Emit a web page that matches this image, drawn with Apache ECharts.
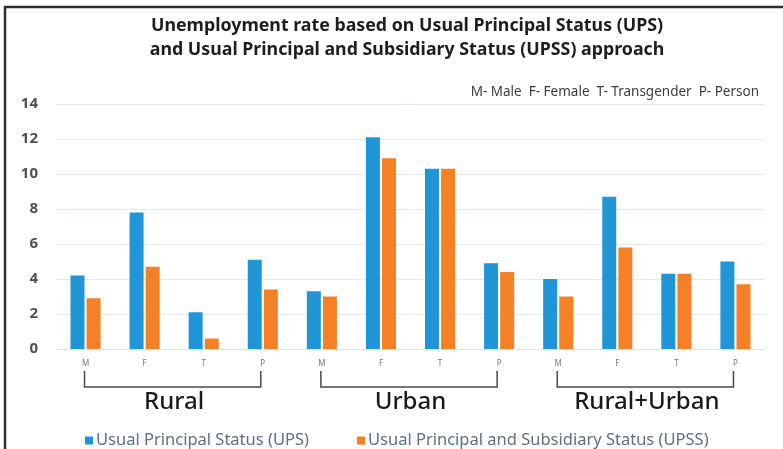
<!DOCTYPE html>
<html>
<head>
<meta charset="utf-8">
<script src="https://cdn.jsdelivr.net/npm/echarts@6/dist/echarts.min.js"></script>
<style>
  html, body { margin: 0; padding: 0; background: #fff; }
  #chart { width: 783px; height: 449px; }
</style>
</head>
<body>
<div id="chart"></div>
<script>
// categories: M/F/T/P repeated for Rural, Urban, Rural+Urban
const categories = ["M", "F", "T", "P", "M", "F", "T", "P", "M", "F", "T", "P"];
const upsValues = [4.2, 7.8, 2.1, 5.1, 3.3, 12.1, 10.3, 4.9, 4.0, 8.7, 4.3, 5.0];
const upssValues = [2.9, 4.7, 0.6, 3.4, 3.0, 10.9, 10.3, 4.4, 3.0, 5.8, 4.3, 3.7];
// groups: [first index, last index, name]
const groups = [
  [0, 3, "Rural"],
  [4, 7, "Urban"],
  [8, 11, "Rural+Urban"],
];
const seriesNames = ["Usual Principal Status (UPS)", "Usual Principal and Subsidiary Status (UPSS)"];

const chart = echarts.init(document.getElementById("chart"));

// bracket + group name under the axis
const renderGroup = (params, api) => {
  const a = api.coord([api.value(0), 0]);
  const b = api.coord([api.value(1), 0]);
  const y1 = a[1] + 22;
  const y2 = a[1] + 38;
  return {
    type: "group",
    children: [
      {
        type: "polyline",
        shape: { points: [[a[0] - 1, y1], [a[0] - 1, y2], [b[0] - 2, y2], [b[0] - 2, y1]] },
        style: { stroke: "#4a4a4a", lineWidth: 1.5, fill: null },
      },
      {
        type: "text",
        style: {
          text: groups[params.dataIndex][2],
          x: (a[0] + b[0]) / 2,
          y: a[1] + 53,
          align: "center",
          verticalAlign: "middle",
          fontSize: 24,
          fontWeight: 500,
          fontFamily: "Noto Sans",
          fill: "#1a1a1a",
        },
      },
    ],
  };
};

chart.setOption({
  animation: false,
  title: [
    {
      text: "Unemployment rate based on Usual Principal Status (UPS)\nand Usual Principal and Subsidiary Status (UPSS) approach",
      left: 402,
      top: 9,
      textAlign: "center",
      textStyle: {
        fontSize: 17.8,
        fontWeight: "bold",
        fontFamily: "Noto Sans",
        color: "#1e1e1e",
        lineHeight: 24,
      },
    },
    {
      text: "M- Male  F- Female  T- Transgender  P- Person",
      right: 19,
      top: 80,
      textStyle: {
        fontSize: 13.5,
        fontWeight: "normal",
        fontFamily: "Noto Sans",
        color: "#3c3c3c",
      },
    },
  ],
  legend: {
    data: seriesNames,
    left: 80,
    top: 427,
    icon: "rect",
    itemWidth: 8,
    itemHeight: 8,
    itemGap: 48,
    textStyle: { fontSize: 16.5, fontFamily: "Noto Sans", color: "#5a7285", padding: [0, 0, 0, -2] },
  },
  grid: { left: 56, right: 18, top: 104, bottom: 100 },
  xAxis: {
    type: "category",
    data: categories,
    axisLine: { lineStyle: { color: "#d9e6ef" } },
    axisTick: { show: false },
    axisLabel: { fontSize: 8, color: "#777", margin: 11, fontFamily: "Noto Sans" },
  },
  yAxis: {
    type: "value",
    min: 0,
    max: 14,
    interval: 2,
    axisLine: { show: false },
    axisTick: { show: false },
    splitLine: { lineStyle: { color: "#dfeaf2" } },
    axisLabel: { fontSize: 15, fontWeight: "bold", color: "#505050", margin: 18, fontFamily: "Noto Sans" },
  },
  graphic: [
    { type: "line", shape: { x1: 4, y1: 7, x2: 783, y2: 7 }, style: { stroke: "#2e2e2e", lineWidth: 2.5 } },
    { type: "line", shape: { x1: 5, y1: 6, x2: 5, y2: 449 }, style: { stroke: "#2e2e2e", lineWidth: 2.5 } },
  ],
  series: [
    {
      name: seriesNames[0],
      type: "bar",
      data: upsValues,
      barWidth: 14,
      barGap: "15%",
      itemStyle: { color: "#2196d6" },
    },
    {
      name: seriesNames[1],
      type: "bar",
      data: upssValues,
      barWidth: 14,
      itemStyle: { color: "#f58025" },
    },
    {
      type: "custom",
      renderItem: renderGroup,
      data: groups.map((g) => [g[0], g[1]]),
      encode: { x: [0, 1] },
      clip: false,
      silent: true,
      z: 5,
    },
  ],
});
</script>
</body>
</html>
